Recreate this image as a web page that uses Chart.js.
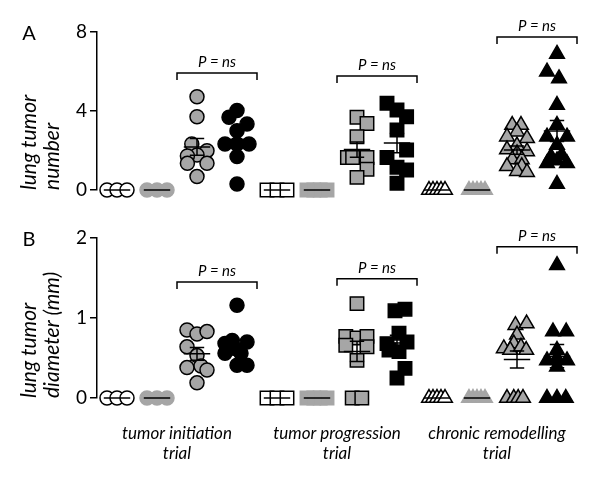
<!DOCTYPE html>
<html>
<head>
<meta charset="utf-8">
<script src="https://cdn.jsdelivr.net/npm/chart.js@4.4.1/dist/chart.umd.min.js"></script>
<style>
  body { margin: 0; background: #fff; }
  canvas { position: absolute; left: 0; }
  #chartA { top: 0; }
  #chartB { top: 215px; }
</style>
</head>
<body>
<canvas id="chartA" width="600" height="215"></canvas>
<canvas id="chartB" width="600" height="265"></canvas>
<script>
// x labels under the three trials
const trialLabels = [
  ['tumor initiation', 'trial'],
  ['tumor progression', 'trial'],
  ['chronic remodelling', 'trial']
];
const numberTicks = [0, 4, 8];
const diameterTicks = [0, 1, 2];

// panel A: lung tumor number, one list per column (4 columns per trial)
const tumorNumber = [
  [0, 0, 0],
  [0, 0, 0],
  [4.72, 3.71, 2.33, 1.99, 1.77, 1.72, 1.35, 1.35, 0.68],
  [4.02, 3.68, 3.34, 3.0, 2.33, 2.33, 2.33, 1.69, 0.3],
  [0, 0, 0],
  [0, 0, 0, 0],
  [3.68, 3.37, 2.70, 1.65, 1.65, 1.65, 1.05, 0.64],
  [4.39, 4.05, 3.71, 3.04, 2.03, 1.65, 1.15, 1.01, 0.34],
  [0, 0, 0, 0, 0],
  [0, 0, 0, 0, 0],
  [3.29, 3.29, 2.95, 2.70, 2.62, 2.25, 2.05, 1.95, 1.85, 1.55, 1.55, 1.2, 1.2, 0.95, 0.9],
  [6.89, 5.99, 5.65, 4.30, 3.29, 2.70, 2.70, 2.28, 1.77, 1.69, 1.5, 1.35, 1.35, 0.30]
];
// horizontal scatter of the dots, in column widths
const tumorNumberJitter = [
  [-0.25, 0, 0.25],
  [-0.25, 0, 0.25],
  [0, 0, -0.13, 0.25, 0, -0.24, 0.25, -0.24, 0],
  [0, -0.2, 0.25, 0, -0.3, 0, 0.3, 0, 0],
  [-0.25, 0, 0.25],
  [-0.25, -0.08, 0.08, 0.25],
  [0, 0.25, 0, -0.24, -0.11, 0.25, 0.25, 0],
  [-0.25, 0, 0.24, 0, 0.24, -0.25, 0, 0.24, 0],
  [-0.2, -0.1, 0, 0.1, 0.2],
  [-0.2, -0.1, 0, 0.1, 0.2],
  [-0.12, 0.1, 0, -0.25, 0.25, 0, -0.25, 0.25, 0, -0.12, 0.12, -0.25, 0.12, 0, 0.25],
  [0, -0.25, 0.05, 0, 0, -0.25, 0.25, 0, 0.12, -0.15, 0, -0.25, 0.25, 0]
];

// panel B: lung tumor diameter (mm)
const tumorDiameter = [
  [0, 0, 0],
  [0, 0, 0],
  [0.85, 0.80, 0.83, 0.64, 0.53, 0.38, 0.40, 0.35, 0.19],
  [1.16, 0.72, 0.70, 0.68, 0.62, 0.56, 0.56, 0.41, 0.41],
  [0, 0, 0],
  [0, 0, 0, 0],
  [1.18, 0.77, 0.75, 0.77, 0.66, 0.64, 0.47, 0, 0],
  [1.09, 1.11, 0.81, 0.70, 0.68, 0.60, 0.58, 0.37, 0.25],
  [0, 0, 0, 0, 0],
  [0, 0, 0, 0, 0],
  [0.91, 0.93, 0.79, 0.68, 0.62, 0.60, 0.64, 0.60, 0, 0, 0, 0],
  [1.66, 0.83, 0.83, 0.60, 0.50, 0.47, 0.47, 0.39, 0, 0, 0]
];
const tumorDiameterJitter = [
  [-0.25, 0, 0.25],
  [-0.25, 0, 0.25],
  [-0.25, 0, 0.25, -0.25, 0, -0.25, 0.1, 0.25, 0],
  [0, -0.12, 0.25, -0.3, -0.05, -0.3, 0.1, 0, 0.25],
  [-0.25, 0, 0.25],
  [-0.25, -0.08, 0.08, 0.25],
  [0, -0.28, 0, 0.25, -0.28, 0.25, 0, -0.12, 0.12],
  [-0.05, 0.2, 0.05, 0.25, -0.25, -0.2, 0.05, 0.2, 0],
  [-0.2, -0.1, 0, 0.1, 0.2],
  [-0.2, -0.1, 0, 0.1, 0.2],
  [-0.04, 0.24, 0, -0.08, -0.33, -0.17, 0.1, 0.23, -0.25, -0.08, 0.03, 0.15],
  [0, -0.1, 0.23, 0, 0, -0.25, 0.25, 0, -0.25, 0, 0.22]
];

const GRAY = '#a6a6a6';
const FONT = 'Lato, "Open Sans", sans-serif';
const shapes = ['circle', 'rect', 'triangle'];
const shapeRadius = { circle: 7, rect: 9.5, triangle: 8.5 };
const fills = ['#ffffff', GRAY, GRAY, '#000000'];
const borders = ['#000000', GRAY, '#000000', '#000000'];

Chart.defaults.color = '#000';
Chart.defaults.font.family = FONT;

function makeDatasets(values, jitter) {
  return values.map((col, i) => {
    const shape = shapes[Math.floor(i / 4)];
    return {
      data: col.map((v, j) => ({ x: i + jitter[i][j], y: v })),
      pointStyle: shape,
      pointRadius: shapeRadius[shape],
      backgroundColor: fills[i % 4],
      borderColor: borders[i % 4],
      borderWidth: 1.5,
      clip: false
    };
  });
}

// mean line plus SEM whiskers for every column
const meanSem = {
  id: 'meanSem',
  afterDatasetsDraw(chart) {
    const { ctx, scales: { x, y } } = chart;
    ctx.save();
    ctx.strokeStyle = '#000';
    ctx.lineWidth = 1.5;
    chart.data.datasets.forEach((ds, i) => {
      const vals = ds.data.map(p => p.y);
      const n = vals.length;
      const mean = vals.reduce((a, b) => a + b, 0) / n;
      const sd = Math.sqrt(vals.reduce((a, b) => a + (b - mean) ** 2, 0) / (n - 1));
      const sem = sd / Math.sqrt(n);
      const cx = x.getPixelForValue(i);
      const half = x.getPixelForValue(i + 0.33) - cx;
      const cap = x.getPixelForValue(i + 0.18) - cx;
      const ym = y.getPixelForValue(mean);
      ctx.beginPath();
      ctx.moveTo(cx - half, ym);
      ctx.lineTo(cx + half, ym);
      if (sem > 0) {
        const y1 = y.getPixelForValue(mean + sem);
        const y2 = y.getPixelForValue(mean - sem);
        ctx.moveTo(cx, y1); ctx.lineTo(cx, y2);
        ctx.moveTo(cx - cap, y1); ctx.lineTo(cx + cap, y1);
        ctx.moveTo(cx - cap, y2); ctx.lineTo(cx + cap, y2);
      }
      ctx.stroke();
    });
    ctx.restore();
  }
};

// "P = ns" brackets and the panel letter
const annotate = {
  id: 'annotate',
  afterDraw(chart, args, opts) {
    const { ctx, scales: { x, y }, chartArea } = chart;
    ctx.save();
    ctx.strokeStyle = '#000';
    ctx.fillStyle = '#000';
    ctx.lineWidth = 1.5;
    (opts.brackets || []).forEach(b => {
      const x1 = x.getPixelForValue(b.from - 0.5);
      const x2 = x.getPixelForValue(b.to + 0.5);
      const yb = y.getPixelForValue(b.at);
      ctx.beginPath();
      ctx.moveTo(x1, yb + 7);
      ctx.lineTo(x1, yb);
      ctx.lineTo(x2, yb);
      ctx.lineTo(x2, yb + 7);
      ctx.stroke();
      ctx.font = 'italic 15px ' + FONT;
      ctx.textAlign = 'center';
      ctx.textBaseline = 'bottom';
      ctx.fillText('P = ns', (x1 + x2) / 2, yb - 3);
    });
    ctx.font = '20px ' + FONT;
    ctx.textAlign = 'center';
    ctx.textBaseline = 'middle';
    ctx.fillText(opts.letter, 29, chartArea.top + 2);
    ctx.restore();
  }
};

function yAxis(ticks, titleLines) {
  return {
    min: ticks[0],
    max: ticks[ticks.length - 1],
    afterFit: s => { s.width = 97; },
    afterBuildTicks: s => { s.ticks = ticks.map(v => ({ value: v })); },
    border: { display: true, color: '#000', width: 1.5 },
    grid: { display: true, drawOnChartArea: false, drawTicks: true, tickLength: 7, color: '#000', lineWidth: 1.5 },
    ticks: { padding: 3, font: { size: 19 } },
    title: {
      display: true,
      text: titleLines,
      align: 'start',
      font: { size: 21, style: 'italic', lineHeight: 1.1 },
      padding: { top: 18, bottom: 0 }
    }
  };
}

function baseOptions(padding, yOpts, xOpts, plugOpts) {
  return {
    responsive: false,
    animation: false,
    events: [],
    layout: { padding },
    scales: { x: xOpts, y: yOpts },
    plugins: { legend: { display: false }, tooltip: { enabled: false }, annotate: plugOpts }
  };
}

new Chart(document.getElementById('chartA'), {
  type: 'scatter',
  data: { datasets: makeDatasets(tumorNumber, tumorNumberJitter) },
  options: baseOptions(
    { top: 32, right: 23, bottom: 25, left: 0 },
    yAxis(numberTicks, ['lung tumor', 'number']),
    { type: 'linear', min: -0.5, max: 11.5, display: false },
    { letter: 'A', brackets: [{ from: 2, to: 3, at: 5.92 }, { from: 6, to: 7, at: 5.77 }, { from: 10, to: 11, at: 7.75 }] }
  ),
  plugins: [meanSem, annotate]
});

new Chart(document.getElementById('chartB'), {
  type: 'scatter',
  data: { datasets: makeDatasets(tumorDiameter, tumorDiameterJitter) },
  options: baseOptions(
    { top: 23, right: 23, bottom: 0, left: 0 },
    yAxis(diameterTicks, ['lung tumor', 'diameter (mm)']),
    {
      type: 'linear', min: -0.5, max: 11.5,
      afterFit: s => { s.height = 82; },
      afterBuildTicks: s => { s.ticks = [1.5, 5.5, 9.5].map(v => ({ value: v })); },
      border: { display: false },
      grid: { display: false, drawTicks: false },
      ticks: {
        padding: 25, maxRotation: 0, autoSkip: false,
        font: { size: 17, style: 'italic', lineHeight: 1.2 },
        callback: (v, i) => trialLabels[i]
      }
    },
    { letter: 'B', brackets: [{ from: 2, to: 3, at: 1.45 }, { from: 6, to: 7, at: 1.49 }, { from: 10, to: 11, at: 1.89 }] }
  ),
  plugins: [meanSem, annotate]
});
</script>
</body>
</html>
